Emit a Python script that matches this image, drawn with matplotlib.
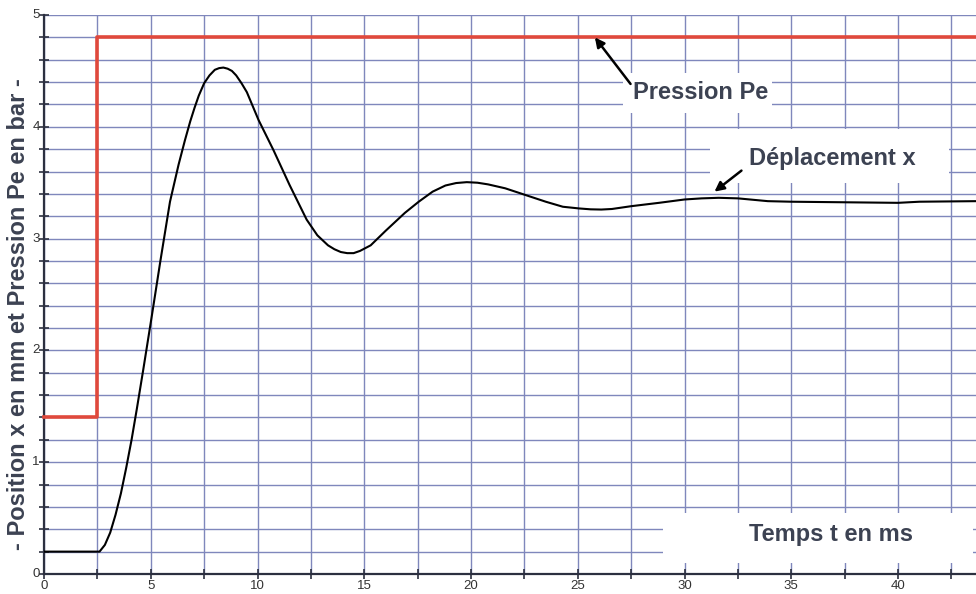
import matplotlib.pyplot as plt
from matplotlib.patches import Rectangle
from matplotlib.ticker import MultipleLocator

# pressure step (bar)
t_pe = [0, 2.5, 43.65]
pe = [1.4, 4.8, 4.8]

# displacement (mm)
t_x = [0, 2.6, 2.85, 3.1, 3.35, 3.6, 3.85, 4.1, 4.35, 4.65, 5.05, 5.45, 5.9, 6.3, 6.6,
       6.85, 7.05, 7.25, 7.5, 7.75, 8.0, 8.2, 8.4, 8.6, 8.8, 9.0, 9.25, 9.5, 10.05,
       10.75, 11.5, 12.3, 12.8, 13.3, 13.6, 13.9, 14.2, 14.5, 14.8, 15.3, 16.0, 16.9,
       17.55, 18.2, 18.8, 19.3, 19.8, 20.3, 20.8, 21.6, 22.55, 23.5, 24.3, 25.05, 25.6,
       26.1, 26.6, 27.5, 28.8, 30.0, 30.8, 31.6, 32.5, 33.9, 35.0, 40.0, 41.0, 43.65]
x_disp = [0.2, 0.2, 0.26, 0.37, 0.53, 0.72, 0.95, 1.2, 1.48, 1.83, 2.31, 2.80, 3.33,
          3.66, 3.88, 4.05, 4.17, 4.28, 4.39, 4.46, 4.51, 4.525, 4.53, 4.52, 4.50, 4.46,
          4.39, 4.31, 4.06, 3.79, 3.48, 3.17, 3.03, 2.94, 2.905, 2.88, 2.87, 2.87, 2.89,
          2.94, 3.07, 3.23, 3.33, 3.42, 3.475, 3.497, 3.505, 3.50, 3.485, 3.45, 3.39,
          3.33, 3.285, 3.27, 3.262, 3.26, 3.265, 3.29, 3.32, 3.35, 3.36, 3.365, 3.36,
          3.335, 3.33, 3.32, 3.33, 3.335]

xticks = [0, 5, 10, 15, 20, 25, 30, 35, 40]
yticks = [0, 1, 2, 3, 4, 5]

txt_col = '#3c4252'
grid_col = '#7f87bc'
ax_col = '#2c3040'

fig = plt.figure(figsize=(9.76, 5.94), dpi=100)
ax = fig.add_axes([0.0451, 0.0337, 0.9549, 0.941])
ax.set_xlim(0, 43.65)
ax.set_ylim(0, 5)

ax.xaxis.set_major_locator(MultipleLocator(2.5))
ax.yaxis.set_major_locator(MultipleLocator(0.2))
ax.grid(True, color=grid_col, lw=1.0, zorder=0)
ax.set_axisbelow(True)
ax.set_xticklabels([])
ax.set_yticklabels([])
ax.tick_params(direction='inout', length=7, width=1.2, color=ax_col)
for v in xticks:
    ax.text(v, -0.055, str(v), ha='center', va='top', fontsize=9.5, color='#333333',
            family='Liberation Sans', clip_on=False)
for v in yticks:
    ax.text(-0.2, v, str(v), ha='right', va='center', fontsize=9.5, color='#333333',
            family='Liberation Sans', clip_on=False)

for s in ['top', 'right']:
    ax.spines[s].set_visible(False)
for s in ['left', 'bottom']:
    ax.spines[s].set_color(ax_col)
    ax.spines[s].set_linewidth(1.6)

# white label boxes cutting the grid
for x0, y0, w, h in [(27.1, 4.12, 7.0, 0.36), (31.2, 3.50, 11.2, 0.48), (29.0, 0.10, 14.5, 0.445)]:
    ax.add_patch(Rectangle((x0, y0), w, h, facecolor='white', edgecolor='none', zorder=1))

ax.step(t_pe, pe, where='post', color='#e0493c', lw=2.6, zorder=3, clip_on=False)
ax.plot(t_x, x_disp, color='black', lw=1.5, zorder=3)

font = dict(family='Liberation Sans', fontweight='bold', color=txt_col)
ax.annotate('Pression Pe', xy=(25.8, 4.80), xytext=(27.6, 4.31), fontsize=17, va='center',
            arrowprops=dict(arrowstyle='-|>', color='black', lw=1.8, mutation_scale=14,
                            shrinkA=0, shrinkB=0, relpos=(0, 0.7)), zorder=4, **font)
ax.annotate('Déplacement x', xy=(31.4, 3.42), xytext=(33.0, 3.72), fontsize=17, va='center',
            arrowprops=dict(arrowstyle='-|>', color='black', lw=1.8, mutation_scale=14,
                            shrinkA=4, shrinkB=0, relpos=(0, 0.2)), zorder=4, **font)
ax.text(33.0, 0.35, 'Temps t en ms', fontsize=17, va='center', zorder=4, **font)

fig.text(0.019, 0.472, '- Position x en mm et Pression Pe en bar -', rotation=90,
         ha='center', va='center', fontsize=17, **font)

fig.savefig('out.png', dpi=100)
